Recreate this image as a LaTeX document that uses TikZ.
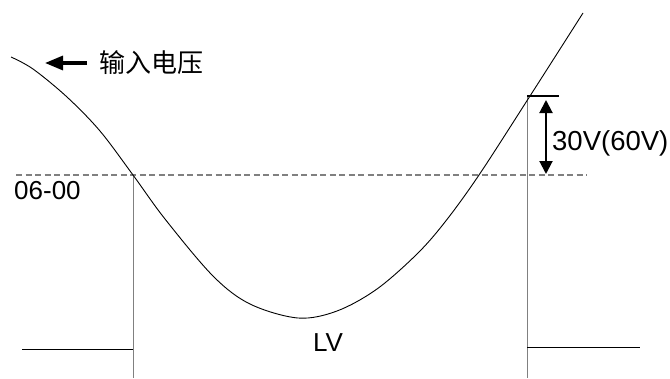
\documentclass[tikz,border=0pt]{standalone}
\usepackage{fontspec}
\setmainfont{Liberation Sans}
\newfontfamily\cjkfont{Noto Sans CJK SC}
\usetikzlibrary{arrows.meta,positioning,calc}
\tikzset{
  lvcurve/.style={draw=black, line width=0.9pt},
  lvguide/.style={draw=black!50, line width=0.9pt},
  lvthreshold/.style={draw=black!50, line width=1.3pt, dash pattern=on 6pt off 3.5pt},
  lvlevel/.style={draw=black, line width=1pt},
  lvbar/.style={draw=black, line width=2.8pt},
  lvarrow/.style={-{Triangle[length=18pt,width=14pt]}, line width=3.2pt},
  lvspan/.style={{Triangle[length=13pt,width=13pt]}-{Triangle[length=13pt,width=13pt]}, line width=2pt},
  lvlabel/.style={inner sep=0pt, font=\fontsize{26}{30}\selectfont}
}
\begin{document}
\begin{tikzpicture}[x=1pt, y=-1pt]
  \useasboundingbox (0,0) rectangle (670,378);
  % reference points
  \coordinate (thrL) at (16,175);
  \coordinate (thrR) at (587,175);
  \coordinate (cutL) at (133,175);
  \coordinate (cutR) at (527,96);
  \coordinate (barR) at (559,96);
  \coordinate (baseL) at (133,378);
  \coordinate (baseR) at (527,378);
  \coordinate (offL) at (22,349);
  \coordinate (offLe) at (133,349);
  \coordinate (onR) at (527,347);
  \coordinate (onRe) at (640,347);
  \coordinate (spanT) at (546,100);
  \coordinate (spanB) at (546,174);

  % labels
  \node[lvlabel, anchor=west] (vin) at (99,63) {\cjkfont 输入电压};
  \coordinate[left=12pt of vin.west] (vinS);
  \coordinate[left=54pt of vin.west] (vinE);
  \node[lvlabel, anchor=base west] (level) at (14,199) {06-00};
  \node[lvlabel, anchor=base west, font=\fontsize{27.5}{30}\selectfont] (margin) at (552,150) {30V(60V)};
  \node[lvlabel, anchor=base] (lv) at (328,351) {LV};

  % threshold and guides
  \draw[lvthreshold] (thrL) -- (thrR);
  \draw[lvguide] (cutL) -- (baseL);
  \draw[lvguide] (cutR) -- (baseR);
  \draw[lvlevel] (offL) -- (offLe);
  \draw[lvlevel] (onR) -- (onRe);
  \draw[lvbar] (cutR) -- (barR);
  \draw[lvspan] (spanT) -- (spanB);
  \draw[lvarrow] (vinS) -- (vinE);

  % input voltage
  \draw[lvcurve] plot[smooth, tension=0.55] coordinates {
    (11,57) (33,69) (67,97) (100,131) (133,175) (165,219) (213,276)
    (250,304) (298,318) (337,311) (377,289) (417,254) (445,222)
    (479,175) (530,96) (583,13)};
\end{tikzpicture}
\end{document}
